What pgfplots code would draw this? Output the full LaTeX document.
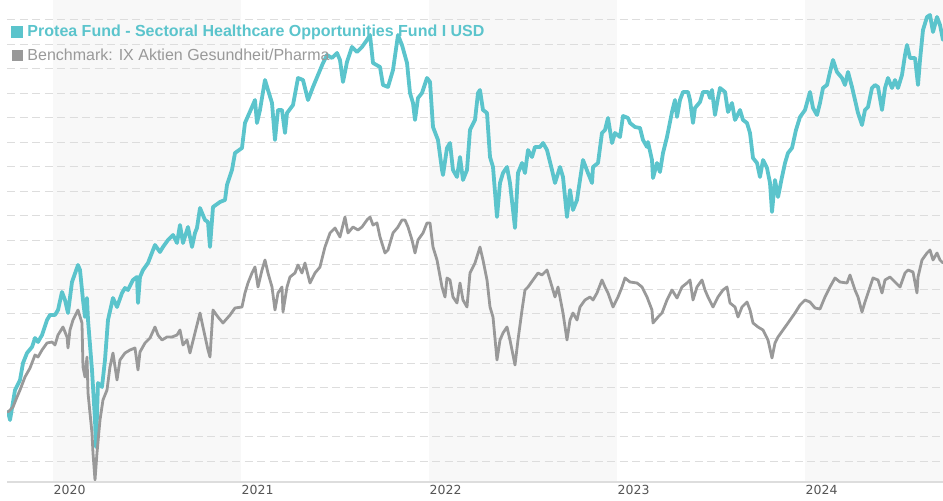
\documentclass[border=0pt]{standalone}
\usepackage{pgfplots}
\pgfplotsset{compat=1.18}
\usepackage{pgfplotstable}
\usepackage{fontspec}
\setmainfont{Liberation Sans}
\newfontfamily\dejavu{DejaVu Sans}
\definecolor{fundc}{HTML}{5BC4CC}
\definecolor{benchc}{HTML}{999999}
\definecolor{bandc}{HTML}{F8F8F8}
\definecolor{gridc}{HTML}{DDDDDD}
\definecolor{tickc}{HTML}{555555}

% columns: horizontal position, vertical position (chart pixels); converted by x expr / y expr
\pgfplotstableread{
px py
8 412
10 420
15 390
20 380
23 363
27 353
32 347
35 338
38 342
42 335
47 320
50 315
55 315
58 310
62 292
65 300
68 313
72 282
78 265
80 270
83 300
85 317
87 298
88 320
92 370
95 420
96 447
98 383
102 387
105 360
108 320
113 298
117 307
122 293
125 288
128 290
133 280
137 277
138 303
140 277
143 270
148 263
155 245
160 252
163 247
168 240
173 235
177 243
180 225
183 243
188 227
192 247
195 233
197 228
200 208
205 220
208 222
210 247
213 207
220 202
225 200
227 185
232 170
235 153
242 148
245 123
252 107
255 100
257 123
260 110
265 80
268 90
272 103
275 140
278 110
282 110
285 133
287 113
293 105
298 78
303 80
308 100
313 87
318 75
323 63
327 55
332 58
337 53
340 60
343 82
347 62
352 47
357 52
362 47
367 40
370 35
373 63
380 67
383 85
388 87
393 70
398 35
402 45
407 63
410 93
413 103
415 120
418 98
422 93
427 78
430 82
433 127
438 140
442 170
443 175
447 148
450 143
453 170
457 177
460 157
463 180
467 170
470 130
475 120
478 93
480 90
483 110
487 113
490 157
493 167
497 217
500 183
503 173
507 167
510 183
515 228
518 173
522 163
525 173
528 150
532 157
535 147
540 147
543 143
547 150
552 170
555 183
560 167
563 177
567 217
570 190
573 210
577 200
580 180
583 160
588 173
592 183
593 167
598 163
602 133
605 130
608 118
612 143
615 133
620 137
623 116
628 118
630 123
635 127
640 128
643 140
647 147
648 142
652 160
653 178
657 163
660 172
663 153
667 137
672 112
675 100
677 117
680 100
683 92
688 92
690 100
693 123
695 108
700 102
703 92
708 92
710 98
712 90
715 115
718 98
720 88
725 92
728 112
732 103
735 120
740 110
743 120
747 123
750 133
753 158
757 163
760 177
763 160
767 168
770 183
772 212
775 180
778 197
782 177
785 163
788 153
792 148
796 130
800 117
805 110
810 92
813 108
817 115
820 103
823 88
827 85
830 72
833 60
837 72
842 78
845 85
848 72
852 87
855 100
858 113
862 125
865 110
868 107
872 88
875 85
878 87
882 110
885 88
888 78
892 88
895 80
898 88
902 75
905 55
907 45
910 58
915 58
918 85
920 60
923 30
927 17
930 15
933 32
937 17
940 25
943 40
}\fundtable

\pgfplotstableread{
px py
8 412
13 407
17 397
20 390
25 377
30 368
35 355
38 357
42 350
47 343
52 342
55 345
58 335
63 327
67 337
68 348
70 330
73 320
78 310
82 323
83 367
85 377
87 357
88 393
92 433
93 453
95 480
97 453
100 420
103 400
107 390
110 367
113 353
117 380
120 360
125 353
130 350
135 348
138 370
140 352
145 343
150 338
155 327
158 335
162 340
167 337
172 337
177 335
180 330
183 345
187 340
190 353
195 333
200 313
203 327
208 350
210 357
213 310
218 317
223 323
230 315
235 308
242 307
245 293
248 283
252 273
255 267
258 287
262 270
265 260
268 273
272 287
275 310
278 293
282 287
283 312
287 287
290 277
295 273
298 265
302 273
305 263
310 283
315 273
320 267
325 247
330 233
335 228
340 237
345 217
348 233
353 227
358 230
362 227
367 220
370 217
373 225
377 223
380 237
385 253
388 250
393 233
398 227
402 220
405 220
408 227
412 240
415 253
418 240
423 233
427 223
430 223
433 247
437 260
442 287
445 297
447 278
450 280
453 297
457 303
460 283
463 300
467 307
470 273
475 263
480 247
483 260
487 280
490 307
493 317
497 360
500 340
503 333
507 327
510 340
515 365
518 340
522 310
525 290
528 287
533 280
538 273
542 275
547 270
550 280
555 297
558 287
563 313
567 340
570 320
573 313
577 320
580 307
585 300
590 297
593 300
597 293
602 280
605 287
608 293
613 307
618 297
622 287
625 278
630 282
637 283
642 287
647 297
652 310
653 323
658 317
662 313
667 300
672 290
677 298
682 287
687 283
690 280
693 300
697 287
702 280
705 290
708 297
713 307
718 297
723 290
727 287
730 303
735 307
738 317
742 307
747 302
750 310
753 323
758 327
763 330
768 340
772 358
775 343
778 337
783 330
788 323
795 313
800 305
805 300
810 302
815 308
820 309
825 297
830 287
835 278
840 282
847 283
850 275
855 290
858 297
862 312
865 302
868 293
873 278
878 280
882 293
885 280
890 277
895 282
900 287
905 273
908 270
913 272
917 293
918 277
922 260
927 253
930 250
933 260
937 253
940 260
943 263
}\benchtable

\begin{document}
\begin{tikzpicture}
\begin{axis}[
  name=ax,
  set layers,
  scale only axis,
  width=936pt, height=482pt,
  xmin=2019.7553, xmax=2024.734,
  ymin=91.43, ymax=288.16,
  axis line style={draw=none},
  tick style={draw=none},
  xtick={2020,2021,2022,2023,2024},
  xticklabels={2020,2021,2022,2023,2024},
  xticklabel style={anchor=north west, inner sep=0pt, yshift=-3.5pt, xshift=0.5pt,
    font=\dejavu\fontsize{12.5}{14}\selectfont, text=tickc},
  ytick={100,110,...,280},
  yticklabels={},
  ymajorgrids,
  major grid style={draw=gridc, line width=1pt, dash pattern=on 8pt off 4.5pt},
  clip=true,
  legend cell align=left,
  legend style={at={(0,1)}, anchor=north west, xshift=4pt, yshift=-25pt,
    draw=none, fill=none, inner sep=0pt, row sep=10.5pt,
    font=\fontsize{16}{18}\selectfont,
    nodes={inner sep=0pt, anchor=west},
    /tikz/every odd column/.append style={column sep=4.5pt}},
  legend image code/.code={\fill[#1, line join=miter] (0pt,-4pt) rectangle (8pt,4pt);},
]
\begin{pgfonlayer}{axis background}
  \fill[bandc] (axis cs:2020,91.43) rectangle (axis cs:2021,288.16);
  \fill[bandc] (axis cs:2022,91.43) rectangle (axis cs:2023,288.16);
  \fill[bandc] (axis cs:2024,91.43) rectangle (axis cs:2024.734,288.16);
\end{pgfonlayer}
\addplot[fundc, line width=3.8pt, line join=round, line cap=round, mark=none]
  table[x expr={2020+(\thisrow{px}-53)/188}, y expr={100+(461-\thisrow{py})/2.45}] {\fundtable};
\addlegendentry{\textcolor{fundc}{\bfseries Protea Fund - Sectoral Healthcare Opportunities Fund I USD}}
\addplot[benchc, line width=2.8pt, line join=round, line cap=round, mark=none]
  table[x expr={2020+(\thisrow{px}-53)/188}, y expr={100+(461-\thisrow{py})/2.45}] {\benchtable};
\addlegendentry{\textcolor{benchc}{Benchmark: IX Aktien Gesundheit/Pharma}}
\draw[gridc, line width=1.2pt] (rel axis cs:0,0) -- (rel axis cs:1,0);
\end{axis}
\pgfresetboundingbox
\useasboundingbox (ax.south west) ++(-7pt,-18pt) rectangle (ax.north east);
\end{tikzpicture}
\end{document}
